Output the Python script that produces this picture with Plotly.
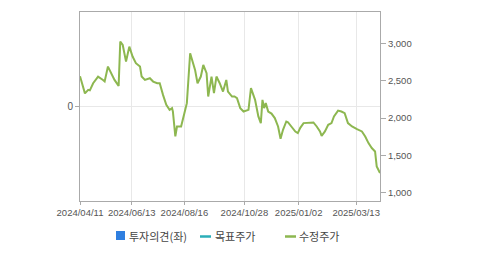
import plotly.graph_objects as go

# Adjusted price (수정주가) samples
dates = [
    "2024-04-11", "2024-04-13", "2024-04-17", "2024-04-21", "2024-04-23", "2024-04-27",
    "2024-05-03", "2024-05-09", "2024-05-11", "2024-05-15", "2024-05-19", "2024-05-23",
    "2024-05-28", "2024-05-30", "2024-06-02", "2024-06-06", "2024-06-10", "2024-06-14",
    "2024-06-18", "2024-06-23", "2024-06-25", "2024-06-29", "2024-07-05", "2024-07-09",
    "2024-07-14", "2024-07-17", "2024-07-21", "2024-07-25", "2024-07-29", "2024-08-01",
    "2024-08-02", "2024-08-05", "2024-08-07", "2024-08-12", "2024-08-16", "2024-08-19",
    "2024-08-23", "2024-08-26", "2024-08-29", "2024-09-01", "2024-09-05", "2024-09-08",
    "2024-09-12", "2024-09-14", "2024-09-18", "2024-09-21", "2024-09-24", "2024-09-28",
    "2024-10-02", "2024-10-06", "2024-10-08", "2024-10-13", "2024-10-16", "2024-10-19",
    "2024-10-23", "2024-10-27", "2024-11-02", "2024-11-05", "2024-11-08", "2024-11-10",
    "2024-11-14", "2024-11-17", "2024-11-19", "2024-11-21", "2024-11-23", "2024-11-26",
    "2024-11-30", "2024-12-04", "2024-12-08", "2024-12-11", "2024-12-14", "2024-12-18",
    "2024-12-20", "2024-12-25", "2024-12-29", "2025-01-01", "2025-01-04", "2025-01-08",
    "2025-01-13", "2025-01-15", "2025-01-20", "2025-01-24", "2025-01-28", "2025-01-30",
    "2025-02-03", "2025-02-07", "2025-02-11", "2025-02-14", "2025-02-19", "2025-02-23",
    "2025-02-27", "2025-03-03", "2025-03-08", "2025-03-14", "2025-03-20", "2025-03-24",
    "2025-03-28", "2025-04-01", "2025-04-05", "2025-04-07", "2025-04-09", "2025-04-11",
]
prices = [
    2560, 2480, 2330, 2377, 2370, 2466,
    2555, 2510, 2490, 2688, 2600, 2510,
    2430, 3021, 2977, 2755, 2955, 2822,
    2733, 2688, 2555, 2510, 2533, 2488,
    2466, 2466, 2310, 2177, 2110, 2133,
    2088, 1755, 1888, 1888, 2066, 2200,
    2866, 2755, 2644, 2466, 2555, 2710,
    2600, 2288, 2555, 2333, 2555, 2466,
    2355, 2510, 2355, 2288, 2288, 2266,
    2133, 2088, 2110, 2400, 2320, 2244,
    2022, 1933, 2244, 2133, 2200, 2088,
    2060, 2000, 1888, 1725, 1844, 1955,
    1945, 1866, 1820, 1800, 1870, 1933,
    1940, 1933, 1942, 1888, 1822, 1764,
    1822, 1911, 1933, 2022, 2100, 2088,
    2066, 1933, 1888, 1853, 1822, 1755,
    1666, 1600, 1555, 1355, 1311, 1266,
]

x_tick_vals = ["2024-04-11", "2024-06-13", "2024-08-16", "2024-10-28", "2025-01-02", "2025-03-13"]
x_tick_text = ["2024/04/11", "2024/06/13", "2024/08/16", "2024/10/28", "2025/01/02", "2025/03/13"]
right_ticks = [1000, 1500, 2000, 2500, 3000]
left_ticks = [0]

names = ["투자의견(좌)", "목표주가", "수정주가"]
GREEN = "#8DB750"
TEAL = "#2BAEB8"
BLUE = "#2F7FE0"
AXIS = "#AAAAAA"
GRID = "#E8E8E8"
TXT = "#555555"
FONT = "Liberation Sans, Arial, sans-serif"
KFONT = "Noto Sans CJK KR, sans-serif"

fig = go.Figure()

# empty series for opinion (left axis) and target price
fig.add_trace(go.Bar(x=[], y=[], name=names[0], marker_color=BLUE, yaxis="y", showlegend=False))
fig.add_trace(go.Scatter(x=[], y=[], mode="lines", name=names[1],
                         line=dict(color=TEAL, width=2), yaxis="y2", showlegend=False))
# price line
fig.add_trace(go.Scatter(x=dates, y=prices, mode="lines", name=names[2], showlegend=False,
                         line=dict(color=GREEN, width=2), yaxis="y2"))

# hand-drawn legend below the plot (paper coordinates)
def px_x(p):
    return (p - 80) / 300.0

def px_y(p):
    return (201 - p) / 189.0

shapes = [
    dict(type="rect", xref="paper", yref="paper", x0=px_x(116), x1=px_x(125),
         y0=px_y(240), y1=px_y(231), fillcolor=BLUE, line=dict(width=0)),
    dict(type="line", xref="paper", yref="paper", x0=px_x(200), x1=px_x(211),
         y0=px_y(236.5), y1=px_y(236.5), line=dict(color=TEAL, width=2.5)),
    dict(type="line", xref="paper", yref="paper", x0=px_x(285), x1=px_x(296),
         y0=px_y(236.5), y1=px_y(236.5), line=dict(color=GREEN, width=2.5)),
]
legend_text_x = [128, 214, 298]
annotations = [
    dict(text=n, xref="paper", yref="paper", x=px_x(lx), y=px_y(235.5),
         xanchor="left", yanchor="middle", showarrow=False, borderpad=0,
         font=dict(family=KFONT, size=11, color="#444444"))
    for n, lx in zip(names, legend_text_x)
]

fig.update_layout(
    width=479, height=255,
    margin=dict(l=80, r=99, t=12, b=54, autoexpand=False),
    paper_bgcolor="white", plot_bgcolor="white",
    font=dict(family=FONT, size=10, color=TXT),
    showlegend=False,
    shapes=shapes, annotations=annotations,
    xaxis=dict(type="date", range=["2024-04-11", "2025-04-11"],
               tickvals=x_tick_vals, ticktext=x_tick_text,
               tickfont=dict(size=9.5, color=TXT),
               showgrid=True, gridcolor=GRID, gridwidth=1,
               showline=True, linecolor=AXIS, linewidth=1, mirror=True,
               ticks="outside", ticklen=3, tickcolor=AXIS, zeroline=False),
    yaxis=dict(range=[-1, 1], tickvals=left_ticks, ticktext=["0"],
               tickfont=dict(size=10, color=TXT),
               showgrid=True, gridcolor=GRID, gridwidth=1,
               showline=True, linecolor=AXIS, linewidth=1,
               ticks="outside", ticklen=4, tickcolor=AXIS, zeroline=False),
    yaxis2=dict(overlaying="y", side="right", range=[893, 3417],
                tickvals=right_ticks, tickformat=",",
                tickfont=dict(size=9.5, color=TXT),
                showgrid=False, showline=True, linecolor=AXIS, linewidth=1,
                ticks="outside", ticklen=5, tickcolor=AXIS, zeroline=False),
)

fig.write_html("out.html")
